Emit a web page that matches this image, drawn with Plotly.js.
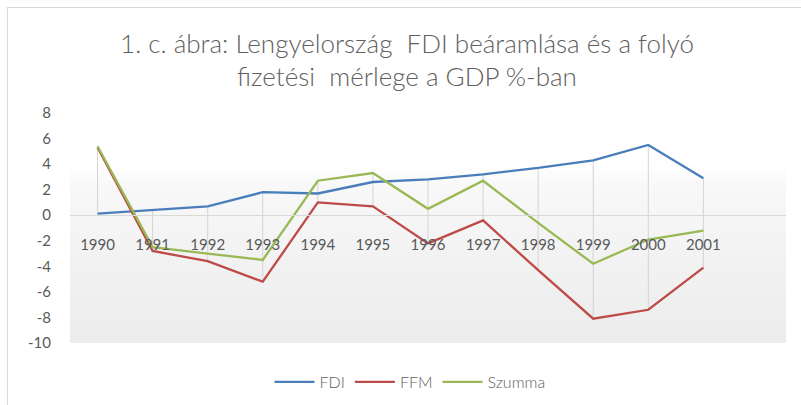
<!DOCTYPE html>
<html>
<head>
<meta charset="utf-8">
<script src="https://cdn.plot.ly/plotly-3.0.1.min.js"></script>
<style>
  html, body { margin: 0; padding: 0; background: #ffffff; }
  #wrap { position: relative; width: 801px; height: 405px; overflow: hidden; }
  #frame { position: absolute; left: 7px; top: 7px; width: 820px; height: 420px; border-left: 1px solid #d9d9d9; border-top: 1px solid #d9d9d9; box-sizing: border-box; }
  #wall { position: absolute; left: 70px; top: 112.6px; width: 716px; height: 230.4px;
          background: linear-gradient(to bottom, #ffffff 0%, #ffffff 22%, #f8f8f8 32%, #f1f1f1 70%, #ececec 100%); }
  #chart { position: absolute; left: 0; top: 0; width: 801px; height: 405px; }
</style>
</head>
<body>
<div id="wrap">
  <div id="frame"></div>
  <div id="wall"></div>
  <div id="chart"></div>
</div>
<script>
const years = ['1990','1991','1992','1993','1994','1995','1996','1997','1998','1999','2000','2001'];
const fdi    = [0.13, 0.4, 0.7, 1.8, 1.7, 2.6, 2.8, 3.2, 3.7, 4.3, 5.5, 2.9];
const ffm    = [5.3, -2.8, -3.6, -5.2, 1.0, 0.7, -2.2, -0.4, -4.3, -8.1, -7.4, -4.1];
const szumma = [5.4, -2.5, -3.0, -3.5, 2.7, 3.3, 0.5, 2.7, -0.6, -3.8, -1.9, -1.2];
const seriesNames = ['FDI', 'FFM', 'Szumma'];
const yTicks = [-10, -8, -6, -4, -2, 0, 2, 4, 6, 8];

const gray = '#595959';
const font = 'Lato, "Open Sans", "Liberation Sans", sans-serif';

// high-low lines (from max to min of the series at each category)
const hlX = [], hlY = [];
years.forEach((yr, i) => {
  const vals = [fdi[i], ffm[i], szumma[i]];
  hlX.push(yr, yr, null);
  hlY.push(Math.max(...vals), Math.min(...vals), null);
});

const traces = [
  { x: hlX, y: hlY, mode: 'lines', line: { color: '#d4d4d4', width: 1 },
    showlegend: false, hoverinfo: 'skip' },
  { x: years, y: fdi, name: seriesNames[0], mode: 'lines', line: { color: '#4a7ebb', width: 2.3 } },
  { x: years, y: ffm, name: seriesNames[1], mode: 'lines', line: { color: '#be4b48', width: 2.3 } },
  { x: years, y: szumma, name: seriesNames[2], mode: 'lines', line: { color: '#98b954', width: 2.3 } }
];

const layout = {
  width: 801, height: 405,
  margin: { l: 70, r: 15, t: 112.6, b: 62, autoexpand: false },
  paper_bgcolor: 'rgba(0,0,0,0)',
  plot_bgcolor: 'rgba(0,0,0,0)',
  font: { family: font, color: gray, size: 15 },
  title: {
    text: '1. c. ábra: Lengyelország  FDI beáramlása és a folyó<br>fizetési  mérlege a GDP %-ban',
    x: 407 / 801, xanchor: 'center', xref: 'container',
    y: 0.87, yanchor: 'top', yref: 'container',
    font: { family: font, size: 26, color: '#606060', weight: 300 }
  },
  xaxis: {
    type: 'category', categoryorder: 'array', categoryarray: years,
    range: [-0.5, 12.5],
    anchor: 'free', position: 10 / 18,
    showline: true, linecolor: '#d9d9d9', linewidth: 1,
    showgrid: false, zeroline: false, ticks: '',
    ticklabelstandoff: 16,
    tickfont: { family: font, size: 15, color: gray },
    fixedrange: true
  },
  yaxis: {
    range: [-10, 8], tickvals: yTicks, ticktext: yTicks.map(String),
    showgrid: false, zeroline: false, showline: false, ticks: '',
    ticklabelstandoff: 18,
    tickfont: { family: font, size: 15, color: gray },
    fixedrange: true
  },
  showlegend: true,
  legend: {
    orientation: 'h', x: (410 - 70) / 716, xanchor: 'center',
    y: (343 - 382) / 230.4, yanchor: 'middle',
    itemwidth: 40,
    font: { family: font, size: 16, color: '#606060', weight: 300 },
    bgcolor: 'rgba(0,0,0,0)', traceorder: 'normal'
  }
};

Plotly.newPlot('chart', traces, layout, { displayModeBar: false, staticPlot: true });
</script>
</body>
</html>
